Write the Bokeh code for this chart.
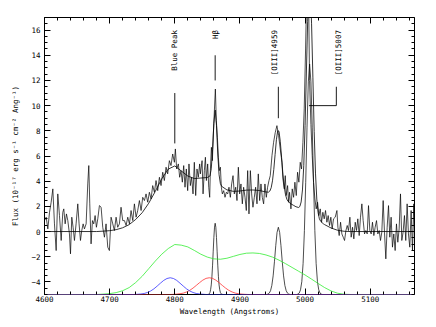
import math
from bokeh.plotting import figure
from bokeh.models import Range1d, LinearAxis, SingleIntervalTicker, ColumnDataSource
from bokeh.core.properties import value
from bokeh.embed import file_html
from bokeh.resources import INLINE

# ---------------- data ----------------
# observed spectrum: wavelength (Angstrom) and flux (1e-17 erg/s/cm2/A)
spec_wl = [
    4600.0, 4602.6, 4605.1, 4607.7, 4610.2, 4612.8, 4615.3, 4617.9, 4620.4, 4623.0,
    4625.6, 4628.1, 4629.6, 4631.7, 4633.7, 4635.8, 4638.3, 4639.9, 4641.9, 4643.9,
    4646.0, 4648.5, 4651.1, 4653.1, 4655.2, 4657.2, 4659.3, 4661.3, 4663.9, 4666.4,
    4668.0, 4669.5, 4671.5, 4673.6, 4675.6, 4677.7, 4679.7, 4681.8, 4684.3, 4686.9,
    4689.4, 4692.0, 4694.5, 4697.1, 4699.6, 4702.2, 4704.8, 4707.3, 4709.9, 4712.4,
    4715.0, 4717.5, 4720.1,
    4722.7, 4725.3, 4727.8, 4730.4, 4732.9, 4735.5, 4738.0, 4740.6, 4743.1, 4745.7,
    4748.3, 4750.8, 4753.4, 4755.9, 4758.5, 4761.0, 4763.6, 4766.1, 4768.7, 4771.2,
    4773.8, 4776.4, 4778.9, 4781.5, 4784.0, 4786.6, 4789.1, 4791.7, 4794.2, 4796.8,
    4799.4, 4800.9, 4802.9, 4805.5, 4807.5, 4809.6, 4811.6, 4813.7, 4815.7, 4817.7,
    4819.8, 4821.8, 4823.9, 4825.9, 4828.0, 4830.0, 4832.1, 4834.1, 4836.1, 4838.2,
    4839.3, 4841.9, 4843.4, 4845.4, 4847.0, 4848.5, 4850.5, 4852.1, 4853.6, 4854.6,
    4856.2, 4857.7, 4859.2, 4860.8, 4862.3, 4863.8, 4865.4, 4866.9, 4868.4, 4870.0,
    4871.5, 4873.0, 4875.1, 4877.1, 4879.2, 4881.2, 4883.2, 4885.3, 4887.3, 4889.4,
    4891.4, 4893.5, 4895.5, 4897.6, 4899.6, 4901.6, 4903.7, 4905.7, 4907.8, 4909.8,
    4911.9, 4913.9, 4916.0, 4918.0, 4920.0, 4922.1, 4924.1, 4926.2, 4928.2, 4930.3,
    4932.3, 4934.3, 4936.4, 4938.4, 4940.5, 4942.5, 4944.6,
    4946.6, 4949.2, 4951.7, 4954.3, 4956.8, 4959.4, 4961.9, 4964.5, 4966.0, 4968.1,
    4969.6, 4971.1, 4973.2, 4974.7, 4976.2, 4978.3, 4980.3, 4982.4, 4984.4, 4986.5,
    4988.5, 4990.5, 4992.6, 4994.6, 4996.7, 4998.7, 5000.8, 5002.8, 5004.9, 5006.9,
    5009.0, 5011.0, 5013.0, 5015.1, 5017.1, 5019.2, 5021.2, 5023.3, 5025.3, 5027.3,
    5029.4, 5031.4, 5033.5, 5035.5, 5037.6, 5039.6, 5041.6, 5043.7,
    5046.3, 5048.9, 5050.4, 5052.4, 5054.5, 5056.5, 5058.6, 5060.6, 5062.7, 5064.7,
    5066.7, 5068.8, 5070.8, 5072.9, 5074.9, 5077.0, 5079.0, 5081.0, 5083.1, 5085.1,
    5087.2, 5089.2, 5091.3, 5093.3, 5095.4, 5097.4, 5099.4, 5101.5, 5103.5, 5105.6,
    5107.6, 5109.7, 5111.7, 5113.8, 5115.8, 5117.8, 5119.9, 5121.9, 5124.0, 5126.0,
    5128.1, 5130.1, 5132.1, 5134.2, 5136.2, 5138.3, 5140.3, 5142.4, 5144.4, 5146.5,
    5148.5, 5150.5, 5152.6, 5154.6, 5156.7, 5158.7, 5160.8, 5162.8, 5164.9, 5166.9,
    5169.0,
]
spec_flux = [
    0.87, 1.14, 0.21, 1.53, 2.33, 3.39, 0.61, -1.51, 2.99, 1.27,
    -0.71, 1.53, 1.80, 0.61, 1.40, 0.87, -0.19, -1.77, 1.14, 0.34,
    -0.71, 0.61, 2.20, 0.61, -0.71, 0.08, 0.61, 0.21, 0.61, 3.78,
    5.24, 2.20, -0.98, 0.87, 0.61, 1.27, 0.34, 1.01, 2.06, 1.93,
    0.34, -0.45, 0.61, -1.24, -1.51, 1.14, 0.61, 0.08, 1.14, 0.34,
    0.61, 1.93, 0.87,
    0.87, 0.48, 1.14, 0.61, 1.67, 0.87, 2.20, 1.14, 1.67, 2.46,
    1.67, 2.72, 2.46, 2.99, 2.33, 3.12, 2.59, 3.65, 3.12, 4.05,
    3.25, 4.31, 3.65, 4.71, 4.05, 5.11, 4.58, 5.63, 5.24, 6.16,
    5.50, 6.56, 4.97, 5.37, 4.31, 4.84, 3.92, 5.24, 3.52, 4.97,
    3.25, 5.37, 3.65, 4.31, 2.99, 5.50, 2.86, 4.97, 4.31, 5.37,
    4.58, 5.63, 2.99, 4.84, 5.90, 4.05, 5.37, 3.52, 2.72, 4.84,
    6.69, 5.63, 7.75, 9.60, 11.32, 8.81, 7.49, 5.90, 4.84, 5.11,
    3.52, 2.99, 3.25, 2.72, 3.12, 2.99, 3.52, 2.72, 3.78, 4.44,
    2.99, 3.52, 2.46, 5.11, 2.99, 3.78, 2.20, 3.52, 2.72, 1.67,
    4.84, 1.40, 4.84, 2.99, 1.93, 2.72, 3.52, 2.20, 4.58, 2.46,
    3.78, 2.72, 2.20, 3.78, 2.72, 3.52, 4.05,
    4.44, 6.03, 7.09, 7.88, 8.41, 7.62, 6.56, 5.50, 4.18, 3.39,
    4.44, 2.86, 3.65, 2.33, 3.12, 1.80, 3.39, 2.72, 3.92, 2.86,
    4.71, 3.92, 5.50, 4.97, 7.09, 9.74, 14.50, 19.80, 21.10, 12.00,
    8.50, 6.03, 3.92, 2.59, 1.80, 2.33, 1.27, 1.80, 0.74, 1.53,
    1.01, 1.67, 0.74, 1.27, 0.48, 1.14, 0.21, 1.01,
    1.14, 1.67, 0.34, -0.32, 0.74, -0.19, -0.45, -0.71, 0.08, 0.48,
    0.08, 1.14, -0.45, 0.34, -0.58, 0.74, 0.08, 1.01, -0.32, 1.14,
    2.20, 0.87, -0.19, 0.08, -0.19, 2.06, 0.08, -0.19, 0.74, -0.32,
    0.34, 0.87, -0.19, 0.08, -0.71, -0.05, 2.46, -0.05, -2.17, 0.34,
    2.06, -0.45, 1.14, -1.24, -0.19, -1.51, 0.61, -0.85, 0.21, 2.99,
    -0.71, -0.05, 1.27, -0.71, 2.20, -0.19, -1.24, 1.67, -1.51, 2.20,
    -2.04,
]

# total model fit
fit_wl = [4600, 4680, 4690, 4700, 4710, 4720, 4730, 4740, 4750, 4760, 4770, 4780,
          4790, 4800, 4810, 4820, 4830, 4840, 4850, 4854, 4856, 4858, 4860, 4862,
          4864, 4866, 4868, 4870, 4872, 4880, 4890, 4900, 4910, 4920, 4930, 4940,
          4944, 4946, 4948, 4950, 4952, 4954, 4956, 4958, 4960, 4962, 4964, 4966,
          4968, 4970, 4972, 4974, 4978, 4982, 4986, 4990, 4992, 4994, 4996, 4998,
          5000, 5002, 5004, 5006, 5008, 5010, 5012, 5014, 5016, 5018, 5020, 5022,
          5024, 5028, 5030, 5040, 5050, 5060, 5070, 5168]
fit_flux = [0, 0, 0.03, 0.07, 0.15, 0.30, 0.55, 0.96, 1.50, 2.25, 3.18, 4.19,
            4.96, 5.21, 4.81, 4.41, 4.21, 4.25, 4.29, 4.41, 4.98, 6.49, 8.59, 9.65,
            8.44, 6.16, 4.51, 3.81, 3.59, 3.31, 3.19, 3.22, 3.29, 3.30, 3.26, 3.14,
            3.13, 3.22, 3.48, 4.03, 4.93, 6.12, 7.29, 8.01, 7.96, 7.13, 5.86, 4.56,
            3.57, 2.92, 2.57, 2.39, 2.21, 2.09, 1.97, 1.91, 1.99, 2.35, 3.30, 5.23,
            8.41, 12.59, 16.70, 19.29, 19.23, 16.50, 12.26, 7.94, 4.64, 2.58, 1.50, 1.01,
            0.81, 0.62, 0.55, 0.28, 0.10, 0.02, 0, 0]

# components (drawn shifted to the -5 baseline)
green_wl = [4600, 4680, 4690, 4700, 4710, 4720, 4730, 4740, 4750, 4760, 4770, 4780,
            4790, 4800, 4810, 4820, 4830, 4840, 4850, 4860, 4870, 4880, 4890, 4900,
            4910, 4920, 4930, 4940, 4950, 4960, 4970, 4980, 4990, 5000, 5010, 5020,
            5030, 5040, 5050, 5060, 5070, 5168]
green_y = [-5, -5, -4.97, -4.93, -4.85, -4.70, -4.45, -4.05, -3.55, -2.95, -2.35, -1.80,
           -1.35, -1.03, -1.08, -1.22, -1.50, -1.80, -2.03, -2.17, -2.20, -2.12, -1.97, -1.82,
           -1.72, -1.70, -1.74, -1.86, -2.03, -2.27, -2.55, -2.85, -3.15, -3.45, -3.78, -4.12,
           -4.45, -4.72, -4.90, -4.98, -5, -5]

blue_wl = [4600, 4738, 4743, 4748, 4753, 4758, 4763, 4768, 4773, 4778, 4783, 4788,
           4793, 4798, 4803, 4808, 4813, 4818, 4823, 4828, 4833, 4838, 4843, 4848, 5168]
blue_y = [-5, -5, -4.98, -4.96, -4.92, -4.84, -4.72, -4.55, -4.33, -4.10, -3.88, -3.73,
          -3.67, -3.73, -3.88, -4.10, -4.33, -4.55, -4.72, -4.84, -4.92, -4.96, -4.98, -5, -5]

red_wl = [4600, 4793, 4798, 4803, 4808, 4813, 4818, 4823, 4828, 4833, 4838, 4843, 4848,
          4853, 4858, 4863, 4868, 4873, 4878, 4883, 4888, 4893, 4898, 4903, 4908, 4913, 5168]
red_y = [-5, -5, -4.99, -4.97, -4.94, -4.89, -4.80, -4.67, -4.49, -4.28, -4.06, -3.86, -3.72,
         -3.67, -3.72, -3.86, -4.06, -4.28, -4.49, -4.67, -4.80, -4.89, -4.94, -4.97, -4.99, -5, -5]

hb_wl = [4600, 4850, 4852, 4853, 4854, 4855, 4856, 4857, 4858, 4859, 4860, 4861, 4862,
         4863, 4864, 4865, 4866, 4867, 4868, 4869, 4870, 4871, 4872, 4874, 5168]
hb_y = [-5, -5, -4.98, -4.94, -4.84, -4.62, -4.24, -3.59, -2.67, -1.56, -0.47, 0.35, 0.66,
        0.35, -0.47, -1.56, -2.67, -3.59, -4.24, -4.62, -4.84, -4.94, -4.98, -5, -5]

o4959_wl = [4600, 4941, 4943, 4945, 4947, 4949, 4951, 4953, 4955, 4957, 4959, 4961, 4963,
            4965, 4967, 4969, 4971, 4973, 4975, 4977, 5168]
o4959_y = [-5, -5, -4.97, -4.89, -4.70, -4.28, -3.52, -2.40, -1.12, -0.07, 0.34, -0.07, -1.12,
           -2.40, -3.52, -4.28, -4.70, -4.89, -4.97, -5, -5]

o5007_wl = [4600, 4987, 4989, 4991, 4993, 4995, 4997, 4999, 5001, 5003, 5005, 5007, 5009,
            5011, 5013, 5015, 5017, 5019, 5021, 5023, 5025, 5027, 5168]
o5007_y = [-5, -5, -4.97, -4.89, -4.63, -3.98, -2.53, 0.09, 3.91, 8.29, 11.89, 13.30, 11.89,
           8.29, 3.91, 0.09, -2.53, -3.98, -4.63, -4.89, -4.97, -5, -5]

# line identifications
label_text = ["Blue Peak", "H\u03b2", "[OIII]4959", "[OIII]5007"]
label_wl = [4800, 4862, 4953, 5051]
label_top = [16, 16, 16, 16]
mark_x = [[4800, 4800], [4862, 4862], [4959, 4959], [5048, 5048, 5006]]
mark_y = [[7.0, 11.0], [12.0, 14.0], [9.0, 11.5], [11.5, 10.0, 10.0]]

# ---------------- figure ----------------
FONT = "DejaVu Sans Mono"
p = figure(width=434, height=325, x_range=Range1d(4600, 5168), y_range=Range1d(-5, 17),
           output_backend="svg", toolbar_location=None,
           min_border_left=44, min_border_right=20, min_border_top=17, min_border_bottom=31)
p.grid.visible = False
p.outline_line_color = "black"
p.outline_line_width = 1
p.background_fill_color = "white"
p.border_fill_color = "white"

def style(ax, ticker, show):
    ax.ticker = ticker
    ax.axis_line_color = None
    ax.major_tick_in = 6
    ax.major_tick_out = 0
    ax.minor_tick_in = 3
    ax.minor_tick_out = 0
    ax.major_tick_line_color = "black"
    ax.minor_tick_line_color = "black"
    ax.major_label_text_font = FONT
    ax.major_label_text_font_size = "7.5px"
    if show:
        ax.major_label_text_color = "black"
    else:
        ax.major_label_text_color = None
        ax.major_label_standoff = 0

style(p.xaxis[0], SingleIntervalTicker(interval=100, num_minor_ticks=5), True)
style(p.yaxis[0], SingleIntervalTicker(interval=2, num_minor_ticks=4), True)
p.xaxis[0].major_label_standoff = 1
p.yaxis[0].major_label_standoff = 4
p.xaxis[0].axis_label = "Wavelength (Angstroms)"
p.yaxis[0].axis_label = "Flux (10\u207b\u00b9\u2077 erg s\u207b\u00b9 cm\u207b\u00b2 Ang\u207b\u00b9)"
for ax in (p.xaxis[0], p.yaxis[0]):
    ax.axis_label_text_font = FONT
    ax.axis_label_text_font_size = "7.5px"
    ax.axis_label_text_font_style = "normal"
    ax.axis_label_text_color = "black"
p.xaxis[0].axis_label_standoff = 2
p.yaxis[0].axis_label_standoff = 8

top = LinearAxis()
style(top, SingleIntervalTicker(interval=100, num_minor_ticks=5), False)
p.add_layout(top, "above")
right = LinearAxis()
style(right, SingleIntervalTicker(interval=2, num_minor_ticks=4), False)
p.add_layout(right, "right")

# components
for wl, yy in ((hb_wl, hb_y), (o4959_wl, o4959_y), (o5007_wl, o5007_y)):
    p.line(wl, yy, line_color="black", line_width=0.7)
p.line(green_wl, green_y, line_color="#33ee33", line_width=0.8)
p.line(red_wl, red_y, line_color="#ff3333", line_width=0.8)
p.line(blue_wl, blue_y, line_color="#3333ff", line_width=0.8)

# spectrum and fit
p.line(spec_wl, spec_flux, line_color="black", line_width=0.7)
p.line(fit_wl, fit_flux, line_color="black", line_width=0.8)

# identification marks and labels
p.multi_line(mark_x, mark_y, line_color="black", line_width=0.9)
src = ColumnDataSource(dict(x=label_wl, y=label_top, t=label_text))
p.text(x="x", y="y", text="t", source=src, angle=math.pi / 2,
       text_align="right", text_baseline="middle",
       text_font=value(FONT), text_font_size="7.5px", text_color="black")

open("out.html", "w").write(file_html(p, INLINE))
